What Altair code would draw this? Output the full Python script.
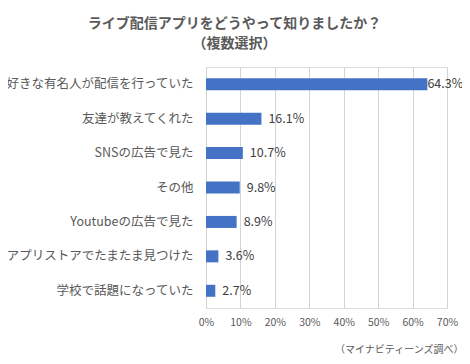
import altair as alt
import pandas as pd

categories = [
    "好きな有名人が配信を行っていた",
    "友達が教えてくれた",
    "SNSの広告で見た",
    "その他",
    "Youtubeの広告で見た",
    "アプリストアでたまたま見つけた",
    "学校で話題になっていた",
]
values = [64.3, 16.1, 10.7, 9.8, 8.9, 3.6, 2.7]
x_ticks = [0, 10, 20, 30, 40, 50, 60, 70]

df = pd.DataFrame({"cat": categories, "val": values})
df["lbl"] = df["val"].map(lambda v: f"{v:.1f}%")

FONT = "Noto Sans CJK JP"
GRAY = "#595959"

y_enc = alt.Y(
    "cat:N",
    sort=categories,
    scale=alt.Scale(paddingInner=0, paddingOuter=0),
    axis=alt.Axis(
        title=None, ticks=False, domain=False, grid=False, labelLimit=0,
        labelPadding=13, labelFontSize=12.5, labelColor=GRAY, labelFont=FONT,
    ),
)
x_enc = alt.X(
    "val:Q",
    scale=alt.Scale(domain=[0, 70], nice=False),
    axis=alt.Axis(
        values=x_ticks, labelExpr="datum.value + '%'", ticks=False, domain=False,
        grid=True, gridColor="#d4d4d4", gridWidth=1, labelPadding=9, labelFontSize=10.5,
        labelOverlap=False, labelFlush=False, labelColor=GRAY, labelFont=FONT,
        title="（マイナビティーンズ調べ）", titleFontSize=10, titleFontWeight="normal",
        titleColor=GRAY, titleFont=FONT, titleAlign="right", titleAnchor="end",
        titleX=257, titleY=44, titleBaseline="alphabetic",
    ),
)

base = alt.Chart(df).encode(x=x_enc, y=y_enc)
bars = base.mark_bar(size=12, color="#4472C4")
txt_small = base.transform_filter("datum.val < 60").mark_text(
    align="left", baseline="middle", dx=7, fontSize=12.5, color="#404040", font=FONT
).encode(text="lbl:N")
txt_big = base.transform_filter("datum.val >= 60").mark_text(
    align="left", baseline="middle", dx=0, fontSize=12.5, color="#404040", font=FONT
).encode(text="lbl:N")

chart = (
    alt.layer(bars, txt_small, txt_big)
    .properties(
        width=241,
        height=241,
        autosize=alt.AutoSizeParams(type="none"),
        padding={"left": 198, "top": 59, "right": 15, "bottom": 48},
        title=alt.Title(
            text=["ライブ配信アプリをどうやって知りましたか？", "（複数選択）"],
            anchor="middle", dx=-92, offset=16, fontSize=14, fontWeight="bold",
            color=GRAY, font=FONT, lineHeight=20,
        ),
    )
    .configure_view(stroke=None)
    .configure(background="white")
)

chart.save("out.html", embed_options={"renderer": "svg", "actions": False})
